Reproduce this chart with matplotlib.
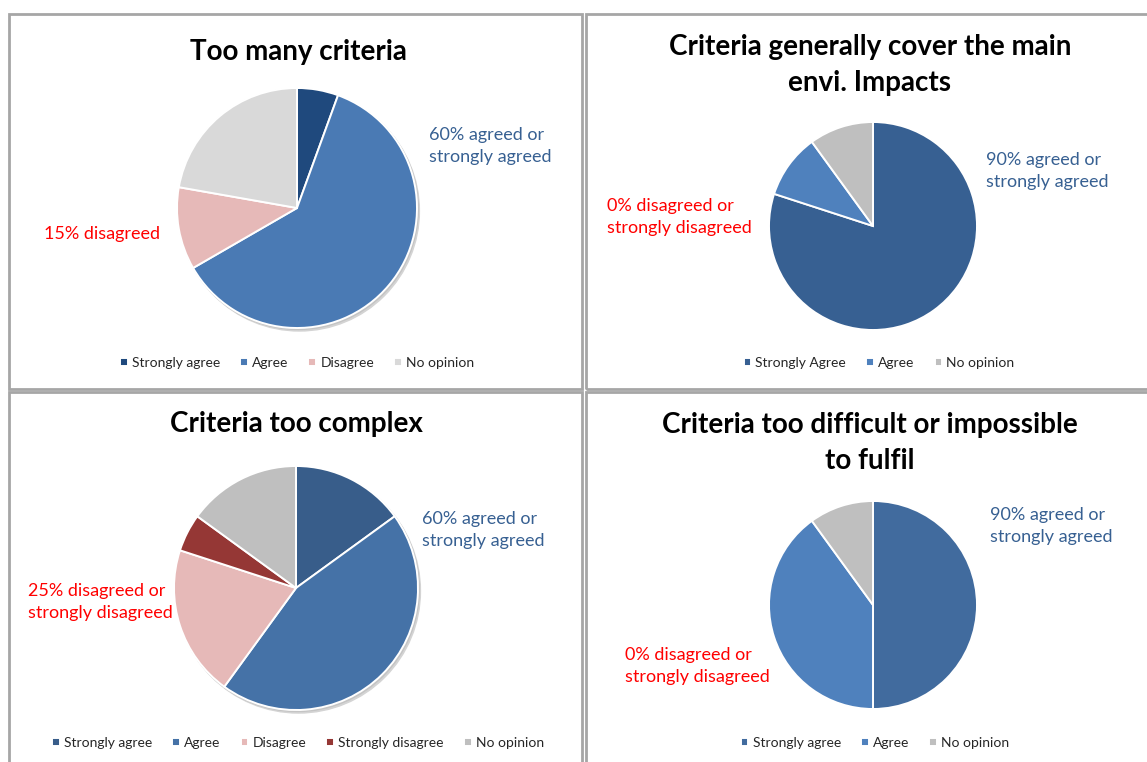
import matplotlib
matplotlib.use('Agg')
from matplotlib import pyplot as plt
from matplotlib.patches import Rectangle, Circle

plt.rcParams['font.family'] = ['Lato', 'DejaVu Sans']

W, H = 1147, 762

# survey answers per question (number of respondents)
labels_many = ['Strongly agree', 'Agree', 'Disagree', 'No opinion']
values_many = [1, 11, 2, 4]
colors_many = ['#1F497D', '#4A7AB4', '#E6B9B8', '#D9D9D9']

labels_cover = ['Strongly Agree', 'Agree', 'No opinion']
values_cover = [16, 2, 2]
colors_cover = ['#376092', '#4F81BD', '#BFBFBF']

labels_complex = ['Strongly agree', 'Agree', 'Disagree', 'Strongly disagree', 'No opinion']
values_complex = [3, 9, 4, 1, 3]
colors_complex = ['#385D8A', '#4572A7', '#E6B9B8', '#953735', '#BFBFBF']

labels_fulfil = ['Strongly agree', 'Agree', 'No opinion']
values_fulfil = [10, 8, 2]
colors_fulfil = ['#416B9E', '#4F81BD', '#BFBFBF']

BLUE = '#376092'
RED = '#FF0000'


def fx(x):
    return x / W


def fy(y):
    return 1 - y / H


fig = plt.figure(figsize=(W / 100, H / 100), dpi=100)
fig.patch.set_facecolor('white')

# chart frames
for (x0, y0, x1, y1) in [(9, 14, 582, 389), (586, 14, 1152, 389),
                         (9, 392, 582, 766), (586, 392, 1152, 766)]:
    fig.patches.append(Rectangle((fx(x0), fy(y1)), fx(x1 - x0), (y1 - y0) / H,
                                 transform=fig.transFigure, fill=False,
                                 edgecolor='#A6A6A6', lw=2.0, zorder=0))


def draw_pie(cx, cy, r, values, colors, labels, shadow, leg_y, leg_x):
    m = 1.06
    ax = fig.add_axes([fx(cx - r * m), fy(cy + r * m), 2 * r * m / W, 2 * r * m / H])
    if shadow:
        ax.add_patch(Circle((0.02, -0.025), 1.0, color='#D4D4D4', zorder=0))
        ax.add_patch(Circle((0.01, -0.012), 1.0, color='#C4C4C4', zorder=0))
    wedges, _ = ax.pie(values, colors=colors, startangle=90, counterclock=False,
                       wedgeprops=dict(edgecolor='white', linewidth=1.4))
    ax.set_xlim(-m, m)
    ax.set_ylim(-m, m)
    ax.set_aspect('auto')
    ax.axis('off')
    fig.legend(wedges, labels, loc='center', bbox_to_anchor=(fx(leg_x), fy(leg_y)),
               ncol=len(labels), frameon=False, fontsize=10, handlelength=0.55,
               handleheight=0.55, handletextpad=0.3, columnspacing=1.45,
               labelcolor='#262626')
    return ax


draw_pie(297, 208, 120, values_many, colors_many, labels_many, True, 363, 297)
draw_pie(873, 226, 104, values_cover, colors_cover, labels_cover, False, 363, 879)
draw_pie(296, 588, 122, values_complex, colors_complex, labels_complex, True, 743, 298)
draw_pie(873, 605, 104, values_fulfil, colors_fulfil, labels_fulfil, False, 743, 875)

title_kw = dict(fontsize=20, fontweight='bold', ha='center', va='center',
                color='black', linespacing=1.5)
fig.text(fx(298), fy(52), 'Too many criteria', **title_kw)
fig.text(fx(870), fy(65), 'Criteria generally cover the main\nenvi. Impacts', **title_kw)
fig.text(fx(296), fy(424), 'Criteria too complex', **title_kw)
fig.text(fx(870), fy(443), 'Criteria too difficult or impossible\nto fulfil', **title_kw)

note_kw = dict(fontsize=13, ha='left', va='center', linespacing=1.45)
fig.text(fx(429), fy(146), '60% agreed or\nstrongly agreed', color=BLUE, **note_kw)
fig.text(fx(44), fy(234), '15% disagreed', color=RED, **note_kw)
fig.text(fx(986), fy(171), '90% agreed or\nstrongly agreed', color=BLUE, **note_kw)
fig.text(fx(607), fy(217), '0% disagreed or\nstrongly disagreed', color=RED, **note_kw)
fig.text(fx(422), fy(530), '60% agreed or\nstrongly agreed', color=BLUE, **note_kw)
fig.text(fx(28), fy(602), '25% disagreed or\nstrongly disagreed', color=RED, **note_kw)
fig.text(fx(990), fy(526), '90% agreed or\nstrongly agreed', color=BLUE, **note_kw)
fig.text(fx(625), fy(666), '0% disagreed or\nstrongly disagreed', color=RED, **note_kw)

fig.savefig('out.png', dpi=100)
